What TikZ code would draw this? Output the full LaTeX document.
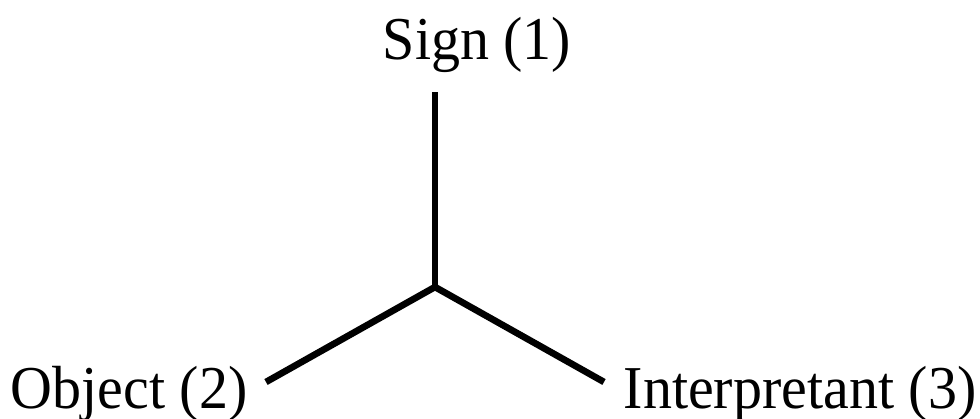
\documentclass[tikz,border=0pt]{standalone}
\usepackage{fontspec}
\setmainfont{Liberation Serif}
\usetikzlibrary{positioning}

\begin{document}
\begin{tikzpicture}[
    x=0.02cm, y=-0.02cm,
    term/.style={inner sep=0pt, anchor=base, font=\fontsize{33}{40}\selectfont},
    leg/.style={line width=3.8pt, black}
  ]
  \useasboundingbox (0,0) rectangle (980,419);

  % ---- the three terms ----
  \node[term] (sign)   at (477,59)  {\scalebox{1}[1.05]{Sign (1)}};
  \node[term] (object) at (129,408) {\scalebox{1}[1.05]{Object (2)}};
  \node[term] (interp) at (800,408) {\scalebox{1}[1.05]{Interpretant (3)}};

  % ---- the branching legs ----
  \coordinate (mid)     at (435,287);
  \coordinate (signEnd) at (435,92);
  \coordinate (objEnd)  at (266,382);
  \coordinate (intEnd)  at (604,382);
  \draw[leg] (signEnd) -- (mid);
  \draw[leg] (objEnd) -- (mid) -- (intEnd);

\end{tikzpicture}
\end{document}
